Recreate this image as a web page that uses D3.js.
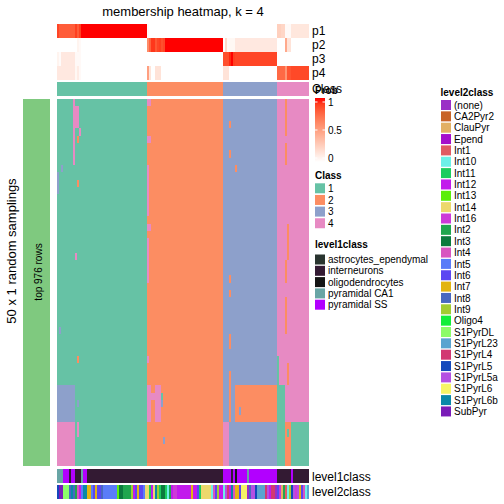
<!DOCTYPE html>
<html><head><meta charset="utf-8">
<script src="https://cdn.jsdelivr.net/npm/d3@7"></script>
<style>body{margin:0;background:#fff}svg text{font-family:"Liberation Sans",Arial,Helvetica,sans-serif;fill:#000}</style>
</head><body><svg id="chart" width="504" height="504"></svg>
<script>
// ---------------- DATA ----------------
const classNames = ["1","2","3","4"];
const classColors = ["#66c2a5","#fc8d62","#8da0cb","#e78ac3"];
const classCounts = [45, 38, 27, 16];           // columns per consensus class
const probNames = ["p1","p2","p3","p4"];
// run-length [count, value] of membership probability per column
const p1Runs = [[1,0.88],[8,0.8],[1,0.9],[1,0.8],[1,0.9],[33,1],[1,0.03],[37,0],[27,0],[2,0.25],[2,0.22],[3,0.03],[9,0.13]];
const p2Runs = [[10,0],[1,0.06],[1,0.03],[33,0],[1,0.6],[1,0.78],[2,0.92],[1,0.82],[1,0.88],[1,0.9],[1,0.85],[1,0.88],[29,1],[1,0],[1,0.2],[1,0.03],[3,0.04],[21,0.12],[4,0],[1,0.45],[2,0.15],[9,0]];
const p3Runs = [[1,0.06],[1,0.02],[7,0.12],[3,0.03],[33,0],[38,0],[3,0.85],[1,0.95],[1,1],[1,0.9],[21,0.88],[16,0]];
const p4Runs = [[9,0.12],[1,0.04],[1,0.1],[1,0.03],[33,0],[1,0.5],[1,0.14],[2,0],[3,0.15],[31,0],[3,0.15],[24,0],[4,0.75],[1,0.55],[2,0.83],[9,0.87]];
const nSamplings = 50;
const topRowsLabel = "top 976 rows";
// deviations from consensus class: [rowFrom, rowTo, colFrom, colTo, class]
const deviations = [
  [0,8,8,8,4],[1,3,9,10,4],[3,3,10,10,4],[4,4,11,11,4],[5,5,10,10,2],[9,9,2,2,3],[11,11,10,10,2],
  [21,21,9,9,4],[10,12,0,0,3],[31,31,1,1,3],[35,35,10,10,2],[39,43,0,8,3],[41,41,10,10,3],[44,49,0,8,4],[44,45,10,10,4],
  [0,0,45,46,4],[5,5,45,46,4],[9,15,45,45,4],[17,17,45,46,4],[19,24,45,45,4],[35,35,45,45,4],
  [39,43,45,46,4],[39,43,49,51,4],[40,40,47,48,4],[41,41,52,52,3],[46,46,53,53,3],[40,40,52,52,1],
  [3,3,86,86,2],[7,7,86,86,2],[9,9,89,89,2],[24,24,86,86,2],[26,26,86,86,2],[32,33,86,86,2],[37,38,86,86,2],
  [39,43,86,86,2],[39,43,89,109,2],[42,42,91,91,3],[44,49,83,85,4],
  [0,4,114,114,2],[6,8,114,114,2],[17,21,115,115,2],[22,24,114,114,2],[27,31,114,114,2],[36,38,115,115,2],
  [35,49,110,110,1],[39,49,110,113,1],[44,49,114,116,2],[44,49,117,125,1],[45,45,115,115,1]
];
const level1Names = ["astrocytes_ependymal","interneurons","oligodendrocytes","pyramidal CA1","pyramidal SS"];
const level1Colors = ["#29342f","#331a33","#151515","#68a5a5","#b200ff"];
const level1Runs = [[3,3],[3,4],[1,1],[2,4],[3,1],[1,3],[2,4],[68,1],[4,4],[1,1],[1,4],[1,2],[5,4],[1,3],[14,4],[7,1],[1,4],[8,1]];
const level2Names = ["(none)","CA2Pyr2","ClauPyr","Epend","Int1","Int10","Int11","Int12","Int13","Int14","Int16","Int2","Int3","Int4","Int5","Int6","Int7","Int8","Int9","Oligo4","S1PyrDL","S1PyrL23","S1PyrL4","S1PyrL5","S1PyrL5a","S1PyrL6","S1PyrL6b","SubPyr"];
const level2Colors = ["#9a2fc6","#c86428","#e2b064","#a50fcc","#e05a63","#6cf0e8","#1ccc5e","#c21aec","#5aee0a","#ecd86c","#cc3ad8","#20a64e","#0c7a3e","#d855c0","#5a7cf8","#5c46f2","#e2b412","#4868c0","#a2cc32","#12ee3a","#8cfc6a","#5aa4d0","#d23872","#1448bc","#b450e2","#f6f466","#0a88a8","#7a1cb8"];
const level2Runs = [[1,23],[2,27],[3,20],[1,17],[1,26],[1,17],[1,11],[1,13],[1,7],[1,14],[2,26],[2,16],[1,14],[1,15],[1,16],[2,15],[1,17],[7,14],[1,8],[2,12],[4,11],[1,18],[1,7],[1,15],[1,16],[2,15],[1,14],[1,9],
  [1,9],[1,6],[1,7],[1,9],[1,26],[1,18],[1,6],[2,12],[1,6],[1,5],[1,11],[1,7],[2,10],[7,7],[1,16],[2,7],[1,15],[1,6],[5,9],[1,5],[1,13],[1,15],[1,18],[2,7],
  [1,5],[1,24],[1,22],[1,7],[1,26],[1,13],[2,16],[1,15],[3,25],[1,0],[1,17],[2,24],[1,23],[4,21],[1,22],[1,24],[1,7],[2,22],[1,0],
  [1,15],[1,10],[1,2],[1,11],[1,4],[1,5],[1,18],[1,23],[1,24],[1,10],[1,24],[1,16],[1,15],[1,13],[1,5],[1,21]];

// ---------------- HELPERS ----------------
const expand = runs => runs.flatMap(([n, v]) => Array(n).fill(v));
const consensus = classCounts.flatMap((n, i) => Array(n).fill(i + 1));
const nCols = consensus.length;
const probs = [p1Runs, p2Runs, p3Runs, p4Runs].map(expand);
const level1 = expand(level1Runs);
const level2 = expand(level2Runs);
const matrix = d3.range(nSamplings).map(() => consensus.slice());
deviations.forEach(([r0, r1, c0, c1, k]) => {
  for (let r = r0; r <= r1; r++) for (let c = c0; c <= c1; c++) matrix[r][c] = k;
});

// ---------------- LAYOUT ----------------
const svg = d3.select("#chart");
const x = d3.scaleBand().domain(d3.range(nCols)).range([57, 309]);
const yTop = d3.scaleBand().domain(probNames).range([24, 80]);
const yMain = d3.scaleBand().domain(d3.range(nSamplings)).range([99, 466]);
const probColor = d3.scaleLinear().domain([0, 1]).range(["#ffffff", "#ff0000"]).interpolate(d3.interpolateLab);
const classColor = d3.scaleOrdinal().domain([1,2,3,4]).range(classColors);
const g = svg.append("g").attr("shape-rendering", "crispEdges");

// title
svg.append("text").attr("x", 183).attr("y", 15.5).attr("text-anchor", "middle")
  .style("font-size", "13px").text("membership heatmap, k = 4");

// probability rows
probNames.forEach((p, i) => {
  g.append("g").selectAll("rect").data(probs[i]).join("rect")
    .attr("x", (d, j) => x(j)).attr("width", x.bandwidth() + 0.3)
    .attr("y", yTop(p)).attr("height", yTop.bandwidth())
    .attr("fill", d => probColor(d));
  svg.append("text").attr("x", 312).attr("y", yTop(p) + yTop.bandwidth() / 2 + 4.3)
    .style("font-size", "12px").text(p);
});
// class row
g.append("g").selectAll("rect").data(consensus).join("rect")
  .attr("x", (d, j) => x(j)).attr("width", x.bandwidth() + 0.3)
  .attr("y", 82).attr("height", 14).attr("fill", d => classColor(d));
svg.append("text").attr("x", 312).attr("y", 93.3).style("font-size", "12px").text("Class");

// main heatmap
g.append("g").selectAll("g").data(matrix).join("g")
  .attr("transform", (d, r) => `translate(0,${yMain(r)})`)
  .selectAll("rect").data(d => d).join("rect")
  .attr("x", (d, j) => x(j)).attr("width", x.bandwidth() + 0.3)
  .attr("y", 0).attr("height", yMain.bandwidth() + 0.3)
  .attr("fill", d => classColor(d));

// left split bar
g.append("rect").attr("x", 23).attr("y", 99).attr("width", 27).attr("height", 367).attr("fill", "#7fc97f");
svg.append("text").attr("transform", "translate(41.5,272) rotate(-90)").attr("text-anchor", "middle")
  .style("font-size", "10px").text(topRowsLabel);
svg.append("text").attr("transform", "translate(15.5,251) rotate(-90)").attr("text-anchor", "middle")
  .style("font-size", "13px").text(`${nSamplings} x 1 random samplings`);

// bottom annotations
g.append("g").selectAll("rect").data(level1).join("rect")
  .attr("x", (d, j) => x(j)).attr("width", x.bandwidth() + 0.3)
  .attr("y", 469).attr("height", 14).attr("fill", d => level1Colors[d]);
g.append("g").selectAll("rect").data(level2).join("rect")
  .attr("x", (d, j) => x(j)).attr("width", x.bandwidth() + 0.3)
  .attr("y", 484.5).attr("height", 14.5).attr("fill", d => level2Colors[d]);
svg.append("text").attr("x", 312).attr("y", 480.5).style("font-size", "12px").text("level1class");
svg.append("text").attr("x", 312).attr("y", 496).style("font-size", "12px").text("level2class");

// ---------------- LEGENDS ----------------
const legTitle = (x0, y0, t) => svg.append("text").attr("x", x0).attr("y", y0)
  .style("font-size", "10px").style("font-weight", "bold").text(t);
// Prob
legTitle(315, 93.5, "Prob");
const defs = svg.append("defs");
const grad = defs.append("linearGradient").attr("id", "pg").attr("x1", 0).attr("x2", 0).attr("y1", 0).attr("y2", 1);
d3.range(0, 1.01, 0.1).forEach(t => grad.append("stop").attr("offset", t).attr("stop-color", probColor(1 - t)));
const probY = d3.scaleLinear().domain([0, 1]).range([158, 102]);
svg.append("rect").attr("x", 315).attr("y", 98).attr("width", 10).attr("height", 64).attr("fill", "url(#pg)");
[0, 0.5, 1].forEach(v => {
  [[315, 317.5], [322.5, 325]].forEach(([a, b]) => svg.append("line")
    .attr("x1", a).attr("x2", b).attr("y1", probY(v)).attr("y2", probY(v))
    .attr("stroke", "#fff").attr("stroke-width", 1));
  svg.append("text").attr("x", 328).attr("y", probY(v) + 3.6).style("font-size", "10px").text(v);
});
// Class
legTitle(315, 178.5, "Class");
const legItems = (x0, y0, step, names, colors) => names.forEach((n, i) => {
  const cy = y0 + i * step;
  svg.append("rect").attr("x", x0).attr("y", cy - 5).attr("width", 10).attr("height", 10).attr("fill", colors[i]);
  svg.append("text").attr("x", x0 + 13).attr("y", cy + 3.6).style("font-size", "10px").text(n);
});
legItems(315, 188.3, 11.65, classNames, classColors);
legTitle(315, 247.5, "level1class");
legItems(315, 259.5, 11.3, level1Names, level1Colors);
legTitle(440.5, 95.5, "level2class");
legItems(441, 105, 11.35, level2Names, level2Colors);
</script></body></html>
